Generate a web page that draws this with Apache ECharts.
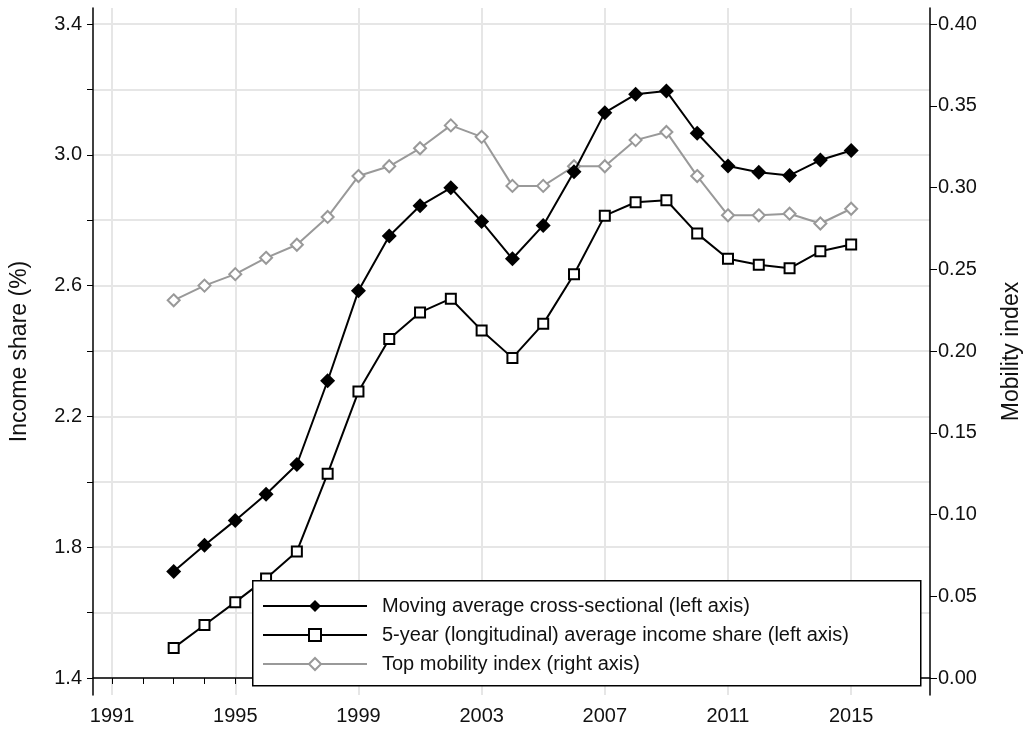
<!DOCTYPE html>
<html>
<head>
<meta charset="utf-8">
<script src="https://cdn.jsdelivr.net/npm/echarts@6/dist/echarts.min.js"></script>
<style>html,body{margin:0;padding:0;background:#fff}#main{width:1029px;height:738px}</style>
</head>
<body>
<div id="main"></div>
<script>
// years and series
var years = [1993,1994,1995,1996,1997,1998,1999,2000,2001,2002,2003,2004,2005,2006,2007,2008,2009,2010,2011,2012,2013,2014,2015];
var movingAvg = [1.726,1.806,1.882,1.962,2.053,2.309,2.584,2.752,2.844,2.899,2.796,2.682,2.784,2.948,3.129,3.185,3.195,3.066,2.966,2.947,2.937,2.984,3.013];
var fiveYear = [1.492,1.562,1.632,1.704,1.787,2.025,2.276,2.437,2.518,2.560,2.463,2.379,2.483,2.635,2.814,2.855,2.861,2.759,2.682,2.664,2.653,2.705,2.726];
var mobility = [0.231,0.240,0.247,0.257,0.265,0.282,0.307,0.313,0.324,0.338,0.331,0.301,0.301,0.313,0.313,0.329,0.334,0.307,0.283,0.283,0.284,0.278,0.287];
var xLabels = [1991,1995,1999,2003,2007,2011,2015];
var leftLabels = [1.4,1.8,2.2,2.6,3.0,3.4];
var leftTicks = [1.4,1.6,1.8,2.0,2.2,2.4,2.6,2.8,3.0,3.2,3.4];
var rightLabels = [0,0.05,0.1,0.15,0.2,0.25,0.3,0.35,0.4];

var xTicks = [];
for (var y = 1991; y <= 2017; y++) xTicks.push(y);

function pairs(vals){ return years.map(function(yr,i){ return [yr, vals[i]]; }); }

var font = 'Liberation Sans, Arial, sans-serif';
var grey = '#e6e6e6';
var chart = echarts.init(document.getElementById('main'));
chart.setOption({
    animation: false,
    textStyle: { fontFamily: font },
    grid: { left: 93, right: 99, top: 8, bottom: 43, outerBoundsMode: 'none', containLabel: false },
    graphic: [{
        type: 'rect', left: 252, top: 580, z: 50,
        shape: { width: 668, height: 105 },
        style: { fill: '#fff', stroke: '#000', lineWidth: 1.5 }
    }],
    legend: {
        orient: 'vertical',
        left: 262, top: 596, z: 60,
        padding: 0,
        itemGap: 9,
        itemWidth: 104, itemHeight: 15,
        textStyle: { fontSize: 20, color: '#111', padding: [0,0,0,10] },
        data: ['Moving average cross-sectional (left axis)', '5-year (longitudinal) average income share (left axis)', 'Top mobility index (right axis)']
    },
    xAxis: [{
        type: 'value', min: 1990.38, max: 2017.56,
        axisLine: { lineStyle: { color: '#000', width: 1.5 } },
        axisTick: { customValues: xTicks, length: 6, lineStyle: { color: '#000' } },
        axisLabel: { customValues: xLabels, fontSize: 20, color: '#111', margin: 11,
            formatter: function(v){ return String(v); } },
        splitLine: { show: false }
    }, {
        // carries the vertical grid lines every 4 years
        type: 'value', min: 1990.38, max: 2017.56, position: 'bottom',
        axisLine: { show: false }, axisLabel: { show: false },
        axisTick: { show: false, customValues: xLabels },
        splitLine: { show: true, lineStyle: { color: grey, width: 2 } }
    }],
    yAxis: [{
        type: 'value', min: 1.348, max: 3.449,
        name: 'Income share (%)', nameLocation: 'middle', nameGap: 62,
        nameTextStyle: { fontSize: 23, color: '#111' },
        axisLine: { show: true, lineStyle: { color: '#000', width: 1.5 } },
        axisTick: { show: true, customValues: leftTicks, length: 6, lineStyle: { color: '#000' } },
        axisLabel: { customValues: leftLabels, fontSize: 20, color: '#111', margin: 11,
            formatter: function(v){ return v.toFixed(1); } },
        splitLine: { show: true, lineStyle: { color: grey, width: 2 } }
    }, {
        type: 'value', min: -0.0104, max: 0.4098, position: 'right',
        name: 'Mobility index', nameLocation: 'middle', nameGap: 70, nameRotate: 90,
        nameTextStyle: { fontSize: 23, color: '#111' },
        axisLine: { show: true, lineStyle: { color: '#000', width: 1.5 } },
        axisTick: { show: true, customValues: rightLabels, length: 7, lineStyle: { color: '#000' } },
        axisLabel: { customValues: rightLabels, fontSize: 20, color: '#111', margin: 8,
            formatter: function(v){ return v.toFixed(2); } },
        splitLine: { show: false }
    }],
    series: [{
        name: 'Top mobility index (right axis)', type: 'line', yAxisIndex: 1,
        data: pairs(mobility), symbol: 'diamond', symbolSize: 12,
        lineStyle: { color: '#999', width: 2 },
        itemStyle: { color: '#fff', borderColor: '#999', borderWidth: 2 }, z: 3
    }, {
        name: '5-year (longitudinal) average income share (left axis)', type: 'line',
        data: pairs(fiveYear), symbol: 'rect', symbolSize: 10,
        lineStyle: { color: '#000', width: 2 },
        itemStyle: { color: '#fff', borderColor: '#000', borderWidth: 2 }, z: 4
    }, {
        name: 'Moving average cross-sectional (left axis)', type: 'line',
        data: pairs(movingAvg), symbol: 'diamond', symbolSize: 15,
        lineStyle: { color: '#000', width: 2 },
        itemStyle: { color: '#000' }, z: 5
    }]
});
</script>
</body>
</html>
